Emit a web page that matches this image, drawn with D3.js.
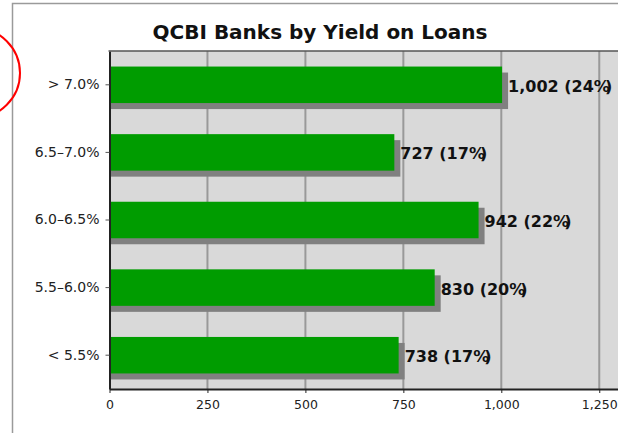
<!DOCTYPE html>
<html>
<head>
<meta charset="utf-8">
<script src="https://cdnjs.cloudflare.com/ajax/libs/d3/7.8.5/d3.min.js"></script>
<style>
  body { margin: 0; background: #fff; }
  svg { display: block; font-family: "DejaVu Sans", sans-serif; }
</style>
</head>
<body>
<div id="chart"></div>
<script>
var width = 618,
    height = 433;

// data
var categories = ["> 7.0%", "6.5–7.0%", "6.0–6.5%", "5.5–6.0%", "< 5.5%"];
var values = [1002, 727, 942, 830, 738];
var percents = [24, 17, 22, 20, 17];
var xTicks = [0, 250, 500, 750, 1000, 1250];

var margin = {top: 51, left: 109.5, bottom: 389};

var svg = d3.select("#chart").append("svg")
    .attr("width", width)
    .attr("height", height);

// outer frame (only top + left visible)
svg.append("path")
    .attr("d", "M12.5,433 L12.5,3.5 L618,3.5")
    .attr("fill", "none")
    .attr("stroke", "#9a9a9a")
    .attr("stroke-width", 1.5);

// red annotation circle at the left edge
svg.append("circle")
    .attr("cx", -25)
    .attr("cy", 73)
    .attr("r", 45)
    .attr("fill", "none")
    .attr("stroke", "#ff0000")
    .attr("stroke-width", 2);

svg.append("text")
    .attr("x", 320)
    .attr("y", 39)
    .attr("text-anchor", "middle")
    .attr("font-size", 20)
    .attr("font-weight", "bold")
    .attr("fill", "#111")
    .text("QCBI Banks by Yield on Loans");

var x = d3.scaleLinear()
    .domain([0, 1500])
    .range([margin.left, margin.left + 1500 * 0.3918]);

var y = d3.scaleBand()
    .domain(categories)
    .range([margin.top, margin.bottom])
    .paddingInner(0.46)
    .paddingOuter(0.23);

// plot background
svg.append("rect")
    .attr("x", margin.left)
    .attr("y", margin.top)
    .attr("width", x(1500) - margin.left)
    .attr("height", margin.bottom - margin.top)
    .attr("fill", "#d9d9d9");

// vertical gridlines
svg.selectAll(".grid")
    .data(xTicks.slice(1))
  .enter().append("line")
    .attr("class", "grid")
    .attr("x1", function(d) { return x(d); })
    .attr("x2", function(d) { return x(d); })
    .attr("y1", margin.top)
    .attr("y2", margin.bottom)
    .attr("stroke", "#999")
    .attr("stroke-width", 2);

var rows = categories.map(function(c, i) {
  return {cat: c, value: values[i], pct: percents[i]};
});

// shadows
svg.selectAll(".shadow")
    .data(rows)
  .enter().append("rect")
    .attr("class", "shadow")
    .attr("x", margin.left)
    .attr("y", function(d) { return y(d.cat) + 6; })
    .attr("width", function(d) { return x(d.value) - margin.left + 6; })
    .attr("height", y.bandwidth())
    .attr("fill", "#808080");

svg.selectAll(".bar")
    .data(rows)
  .enter().append("rect")
    .attr("class", "bar")
    .attr("x", margin.left)
    .attr("y", function(d) { return y(d.cat); })
    .attr("width", function(d) { return x(d.value) - margin.left; })
    .attr("height", y.bandwidth())
    .attr("fill", "#009c00");

// value labels
var lbl = svg.selectAll(".lbl")
    .data(rows)
  .enter().append("text")
    .attr("class", "lbl")
    .attr("x", function(d) { return x(d.value) + 6; })
    .attr("y", function(d) { return y(d.cat) + y.bandwidth() / 2 + 7; })
    .attr("font-size", 16)
    .attr("font-weight", "bold")
    .attr("fill", "#111");
lbl.append("tspan")
    .text(function(d) { return d3.format(",")(d.value) + " (" + d.pct + "%"; });
lbl.append("tspan")
    .attr("dx", -5)
    .text(")");

// axes
var xAxis = d3.axisBottom(x)
    .tickValues(xTicks)
    .tickFormat(d3.format(","))
    .tickSizeInner(4)
    .tickSizeOuter(0)
    .tickPadding(7);

var gx = svg.append("g")
    .attr("transform", "translate(0," + margin.bottom + ")")
    .call(xAxis);
gx.select(".domain").attr("stroke", "#222").attr("stroke-width", 2);
gx.selectAll(".tick line").attr("stroke", "#222");
gx.selectAll(".tick text")
    .attr("font-size", 12.5)
    .attr("font-family", "DejaVu Sans")
    .attr("fill", "#222");

var yAxis = d3.axisLeft(y)
    .tickSizeInner(4)
    .tickSizeOuter(0)
    .tickPadding(6);

var gy = svg.append("g")
    .attr("transform", "translate(" + margin.left + ",0)")
    .call(yAxis);
gy.select(".domain").attr("stroke", "#222").attr("stroke-width", 2);
gy.selectAll(".tick line").attr("stroke", "#555");
gy.selectAll(".tick text")
    .attr("font-size", 14)
    .attr("font-family", "DejaVu Sans")
    .attr("fill", "#222");

// top border of plot
svg.append("line")
    .attr("x1", margin.left - 1)
    .attr("x2", width)
    .attr("y1", margin.top)
    .attr("y2", margin.top)
    .attr("stroke", "#555")
    .attr("stroke-width", 1.5);
</script>
</body>
</html>
